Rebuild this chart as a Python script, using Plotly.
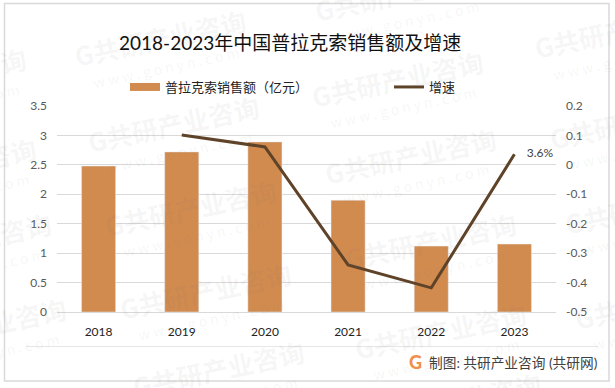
import plotly.graph_objects as go

years = ["2018", "2019", "2020", "2021", "2022", "2023"]
sales = [2.48, 2.72, 2.89, 1.90, 1.12, 1.155]
growth = [None, 0.1015, 0.061, -0.34, -0.418, 0.036]
growth_labels = ["", "", "", "", "", "    3.6%"]
left_ticks = [0, 0.5, 1, 1.5, 2, 2.5, 3, 3.5]
left_tick_labels = ["0", "0.5", "1", "1.5", "2", "2.5", "3", "3.5"]
right_ticks = [-0.5, -0.4, -0.3, -0.2, -0.1, 0, 0.1, 0.2]
right_tick_labels = ["-0.5", "-0.4", "-0.3", "-0.2", "-0.1", "0", "0.1", "0.2"]
title_text = "2018-2023年中国普拉克索销售额及增速"
bar_name = "普拉克索销售额（亿元）"
line_name = "增速"
footer_text = "制图: 共研产业咨询 (共研网)"
wm_main = "G共研产业咨询"
wm_sub = "w w w . g o n y n . c o m"
wm_centers = [(160, 38), (173, 123), (190, 207), (205, 290), (218, 368), (397, 78),
              (410, 155), (430, 240), (440, 330), (400, -8), (620, 30), (635, 120),
              (650, 205), (660, 300), (-60, 75), (-50, 165), (-35, 240), (-20, 325),
              (455, 400)]

W, H = 615, 388
L, R, T, B = 57, 556, 106, 312
CJK = "Lato, 'Noto Sans CJK SC', sans-serif"
BAR_COLOR = "#D18B4F"
px = lambda x: (x - L) / (R - L)
py = lambda y: (B - y) / (B - T)

fig = go.Figure()
fig.add_trace(go.Bar(x=years, y=sales, name=bar_name, marker_color=BAR_COLOR, width=0.41, yaxis="y", showlegend=False))
fig.add_trace(go.Scatter(x=[None], y=[None], name=bar_name, mode="lines",
                         line=dict(color=BAR_COLOR, width=8), legend="legend"))
fig.add_trace(go.Scatter(x=years, y=growth, name=line_name, mode="lines+text", text=growth_labels,
                         textposition="middle right", textfont=dict(size=12, color="#404040", family=CJK),
                         line=dict(color="#5F4329", width=3), yaxis="y2", cliponaxis=False, legend="legend2"))

ann = []
for cx, cy in wm_centers:
    ann.append(dict(text=wm_main, x=px(cx), y=py(cy), xref="paper", yref="paper", showarrow=False, textangle=-12,
                    xanchor="center", yanchor="middle",
                    font=dict(size=26, color="rgba(120,120,120,0.07)", family="'Noto Sans CJK SC'", weight=700)))
    ann.append(dict(text=wm_sub, x=px(cx + 6), y=py(cy + 29), xref="paper", yref="paper", showarrow=False, textangle=-12,
                    xanchor="center", yanchor="middle",
                    font=dict(size=14, color="rgba(120,120,120,0.07)", family="'Noto Sans CJK SC'")))
ann.append(dict(text=title_text, x=px(290), y=py(43), xref="paper", yref="paper", showarrow=False,
                xanchor="center", yanchor="middle", font=dict(size=19, color="#111111", family=CJK)))
ann.append(dict(text="G", x=px(415), y=py(362), xref="paper", yref="paper", showarrow=False,
                xanchor="center", yanchor="middle", font=dict(size=18, color="#F0904A", family="Lato", weight=900)))
ann.append(dict(text=footer_text, x=px(427), y=py(362), xref="paper", yref="paper", showarrow=False,
                xanchor="left", yanchor="middle", font=dict(size=13.7, color="#404040", family=CJK)))

shapes = [
    dict(type="rect", xref="paper", yref="paper", x0=px(4.5), x1=px(609), y0=py(3.5), y1=py(381),
         line=dict(color="#D9D9D9", width=1.5), fillcolor="rgba(0,0,0,0)", layer="below"),
    dict(type="line", xref="paper", yref="paper", x0=px(26), x1=px(598), y0=py(346.5), y1=py(346.5),
         line=dict(color="#E6E6E6", width=1), layer="below"),
]

legend_font = dict(size=13, color="#222222", family=CJK)
fig.update_layout(
    width=W, height=H, autosize=False,
    margin=dict(l=L, r=W - R, t=T, b=H - B, pad=0),
    paper_bgcolor="white", plot_bgcolor="rgba(0,0,0,0)",
    font=dict(family=CJK, size=12, color="#595959"),
    annotations=ann, shapes=shapes,
    legend=dict(x=px(125), xanchor="left", y=py(87), yanchor="middle", font=legend_font,
                bgcolor="rgba(0,0,0,0)", itemwidth=30),
    legend2=dict(x=px(389), xanchor="left", y=py(87), yanchor="middle", font=legend_font,
                 bgcolor="rgba(0,0,0,0)", itemwidth=30),
    xaxis=dict(type="category", showline=True, linecolor="#D9D9D9", linewidth=1, ticks="",
               showgrid=False, tickfont=dict(size=12, color="#222222"), ticklabelstandoff=9),
    yaxis=dict(range=[0, 3.5], tickvals=left_ticks, ticktext=left_tick_labels, gridcolor="#D9D9D9",
               gridwidth=1, showline=False, zeroline=False, ticks="", ticklabelstandoff=9,
               tickfont=dict(size=12, color="#595959")),
    yaxis2=dict(range=[-0.5, 0.2], tickvals=right_ticks, ticktext=right_tick_labels, overlaying="y",
                side="right", showgrid=False, zeroline=False, showline=False, ticks="", ticklabelstandoff=9,
                tickfont=dict(size=12, color="#595959")),
)

fig.write_html("out.html", config={"displayModeBar": False},
               post_script="document.body.style.margin='0';document.body.style.overflow='hidden';")
